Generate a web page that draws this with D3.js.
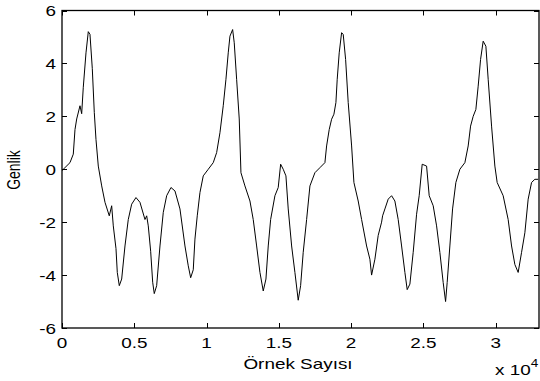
<!DOCTYPE html>
<html><head><meta charset="utf-8">
<script src="https://cdn.jsdelivr.net/npm/d3@7"></script>
<style>body{margin:0;background:#fff}svg{display:block}text{font-family:"Liberation Sans",Arial,sans-serif}</style>
</head><body>
<svg id="c" width="540" height="381"></svg>
<script>
const sampleIdx = [0,553,781,899,1017,1245,1362,1473,1660,1819,1936,2096,2234,2351,2511,2746,2974,3271,3437,3548,3735,3825,3963,4129,4357,4585,4820,5118,5394,5740,5858,5969,6134,6273,6383,6549,6778,7006,7241,7538,7815,8161,8507,8735,8901,9081,9198,9357,9544,9772,10118,10464,10699,10927,11155,11342,11501,11619,11805,11916,12082,12262,12380,12656,13002,13230,13465,13694,13922,14109,14268,14434,14731,14959,15125,15305,15492,15651,15886,16114,16342,16508,16688,16923,17152,17497,17843,18189,18306,18486,18652,18812,18950,19040,19178,19344,19455,19621,19801,20036,20195,20492,20727,21073,21301,21418,21647,21875,22110,22180,22339,22567,22802,23030,23259,23494,23722,23881,24068,24296,24531,24711,24919,25223,25403,25680,25915,26142,26371,26537,26648,26834,27021,27249,27526,27872,28100,28266,28446,28632,28792,28958,29138,29325,29484,29719,29947,30106,30521,30867,31102,31330,31559,31794,32022,32250,32485,32713,32941];
const amplitude = [-0.05,0.25,0.57,1.5,1.9,2.4,2.1,3.1,4.4,5.2,5.1,3.8,2.15,1.13,0.12,-0.63,-1.25,-1.76,-1.38,-2.14,-3.0,-3.9,-4.4,-4.15,-2.9,-1.9,-1.32,-1.07,-1.25,-1.9,-1.76,-2.14,-3.1,-4.27,-4.7,-4.4,-2.9,-1.63,-1.0,-0.69,-0.82,-1.5,-2.9,-3.65,-4.1,-3.8,-2.64,-1.76,-0.88,-0.25,0,0.25,0.63,1.38,2.4,3.4,4.4,5.03,5.28,4.78,3.4,1.9,-0.13,-0.63,-1.2,-1.9,-2.9,-3.9,-4.6,-4.15,-2.9,-1.9,-1.0,-0.69,0.19,0,-0.25,-1.5,-2.9,-3.9,-4.95,-4.4,-3.14,-1.9,-0.63,-0.13,0.06,0.25,0.88,1.5,1.89,2.08,2.52,3.4,4.4,5.16,5.1,4.15,2.52,0.88,-0.5,-1.2,-1.9,-2.9,-3.4,-4.0,-3.4,-2.5,-2.0,-1.76,-1.5,-1.13,-1.0,-1.2,-1.9,-2.9,-3.9,-4.55,-4.34,-3.14,-1.7,-1.0,0.19,0.12,-1.0,-1.38,-2.14,-3.14,-4.28,-5.0,-4.28,-2.9,-1.5,-0.5,0,0.25,0.88,1.63,2.0,2.26,3.14,4.15,4.84,4.65,3.4,1.63,0.12,-0.5,-1.0,-1.9,-2.9,-3.6,-3.9,-3.14,-2.4,-1.13,-0.5,-0.38,-0.38];
const xTicks = [0,0.5,1,1.5,2,2.5,3];
const yTicks = [-6,-4,-2,0,2,4,6];
const xLabel = "Örnek Sayısı", yLabel = "Genlik";

const L=62,R=539,T=10.5,B=328;
const SX=1.35, FS=14;
const svg=d3.select("#c");
const x=d3.scaleLinear().domain([0,33000]).range([L,R]);
const y=d3.scaleLinear().domain([-6,6]).range([B,T]);
const data=sampleIdx.map((s,i)=>[s,amplitude[i]]);

function txt(px,py,s,anchor,rot){
  return svg.append("text")
    .attr("transform",`translate(${px},${py})`+(rot?` rotate(${rot})`:"")+(rot?` scale(1,${SX})`:` scale(${SX},1)`))
    .attr("text-anchor",anchor).attr("font-size",FS).attr("fill","#000").text(s);
}

svg.append("path").datum(data)
  .attr("d",d3.line().x(d=>x(d[0])).y(d=>y(d[1])))
  .attr("fill","none").attr("stroke","#000").attr("stroke-width",1);

const g=svg.append("g").attr("stroke","#000").attr("stroke-width",1).attr("fill","none");
g.append("rect").attr("x",L).attr("y",T).attr("width",R-L).attr("height",B-T).attr("stroke-width",1.3);
xTicks.forEach(t=>{const px=Math.round(x(t*1e4))+0.5;
  g.append("line").attr("x1",px).attr("x2",px).attr("y1",B).attr("y2",B-5);
  g.append("line").attr("x1",px).attr("x2",px).attr("y1",T).attr("y2",T+5);
  txt(x(t*1e4),348,t,"middle");
});
yTicks.forEach(t=>{const py=Math.round(y(t))+0.5;
  g.append("line").attr("x1",L).attr("x2",L+5).attr("y1",py).attr("y2",py);
  g.append("line").attr("x1",R).attr("x2",R-5).attr("y1",py).attr("y2",py);
  txt(56,y(t)+5.5,t,"end");
});
txt(298,369,xLabel,"middle");
txt(20,170,yLabel,"middle",-90);
const ex=txt(495,375,"","start");
ex.append("tspan").text("x 10");
ex.append("tspan").attr("dy",-8).attr("font-size",10).text("4");
</script>
</body></html>
